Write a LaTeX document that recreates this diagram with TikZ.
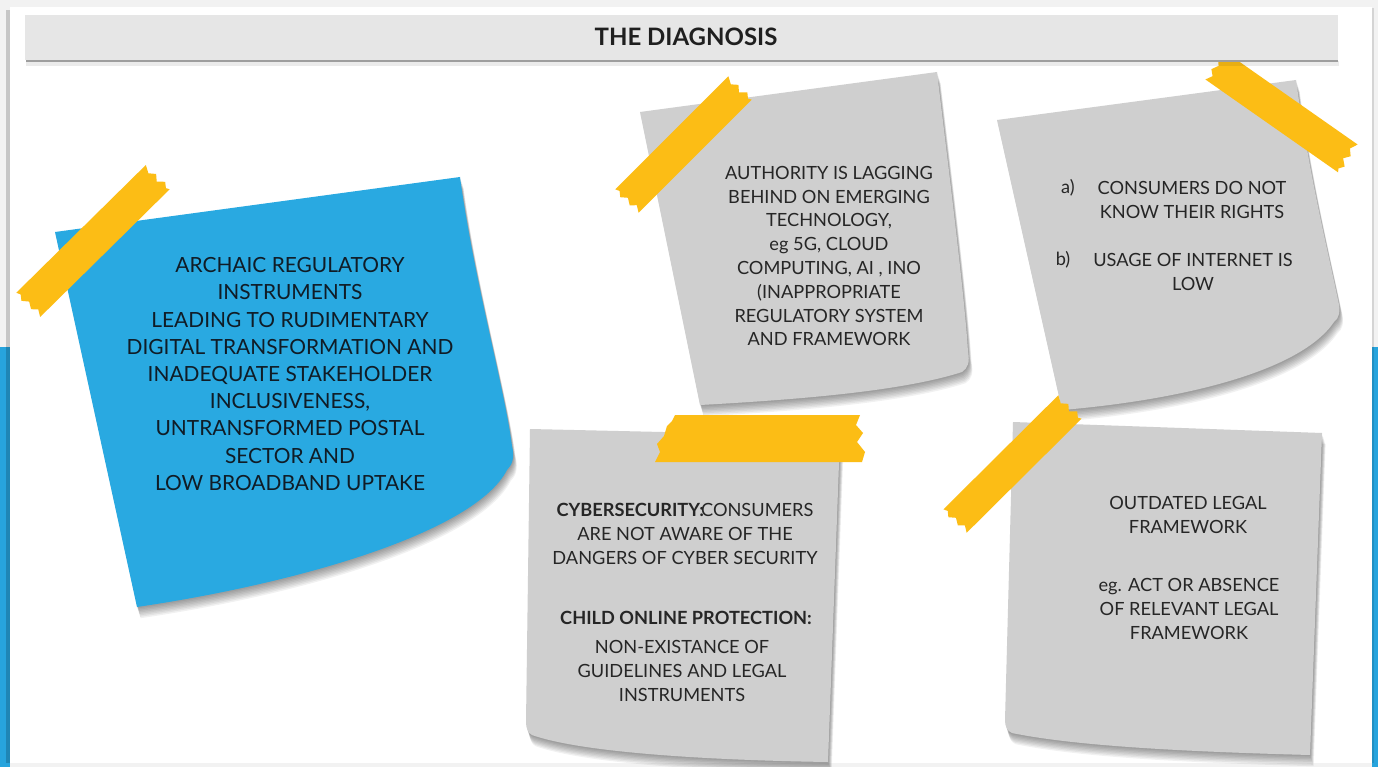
\documentclass[tikz,border=0pt]{standalone}
\usepackage{fontspec}
\setmainfont{Lato}
\definecolor{tapeyellow}{HTML}{FCBD15}
\definecolor{noteblue}{HTML}{29A9E1}
\definecolor{notegray}{HTML}{CFCFCF}
\definecolor{barfill}{HTML}{E6E6E6}
\definecolor{pageblue}{HTML}{27A4DD}
\definecolor{pagegray}{HTML}{F2F2F2}
\definecolor{textdark}{HTML}{262626}
\definecolor{textnavy}{HTML}{101C26}

% outlines of the five sticky notes (coordinates in px, y downwards)
\def\noteblueoutline{(55,232) -- (460,177) .. controls (474,280) and (505,390) .. (512,446) .. controls (515,458) and (512,465) .. (507,470) .. controls (475,532) and (300,583) .. (137,607) -- cycle}
\def\noteauthority{(640,112) -- (937,72) .. controls (950,180) and (965,300) .. (968,352) .. controls (970,362) and (968,368) .. (962,372) .. controls (900,392) and (790,400) .. (700,405) -- cycle}
\def\noteconsumers{(997,120) -- (1296,80) .. controls (1310,180) and (1330,260) .. (1338,300) .. controls (1341,312) and (1339,318) .. (1334,322) .. controls (1300,372) and (1180,400) .. (1062,410) -- cycle}
\def\notecyber{(530,429) -- (840,436) -- (828,762) .. controls (700,760) and (580,752) .. (532,735) .. controls (528,733) and (526,728) .. (526,722) -- cycle}
\def\notelegal{(1013,422) -- (1322,433) -- (1310,755) .. controls (1200,752) and (1080,747) .. (1012,733) .. controls (1007,731) and (1005,726) .. (1005,720) -- cycle}

% soft shadow: stacked translucent copies of an outline
\newcommand\notesoftshadow[1]{%
  \foreach \k in {1,...,8}{\fill[black,opacity=0.055,shift={(0.45*\k,1.4*\k)}] #1;}}

% a strip of adhesive tape with torn ends: centre x, centre y, angle, length, width
\newcommand\tapestrip[5]{%
  \begin{scope}[shift={(#1,#2)},rotate=#3]
    \pgfmathsetmacro\hl{#4/2}\pgfmathsetmacro\hw{#5/2}
    \fill[tapeyellow]
      ({-\hl},{-\hw}) -- ({\hl},{-\hw})
      -- ({\hl-4},{-0.55*\hw}) -- ({\hl+1},{-0.2*\hw}) -- ({\hl-4},{0.15*\hw})
      -- ({\hl+2},{0.5*\hw}) -- ({\hl-2},{0.8*\hw}) -- ({\hl},{\hw})
      -- ({-\hl},{\hw})
      -- ({-\hl+4},{0.6*\hw}) -- ({-\hl-1},{0.3*\hw}) -- ({-\hl+3},{-0.1*\hw})
      -- ({-\hl-2},{-0.45*\hw}) -- ({-\hl+2},{-0.75*\hw}) -- cycle;
  \end{scope}}

\begin{document}
\begin{tikzpicture}[x=1pt,y=-1pt,
  bodytext/.style={align=center,text=textdark,font=\fontsize{18.2}{23.8}\selectfont},
  bluetext/.style={align=center,text=textnavy,font=\fontsize{20.9}{27.2}\selectfont},
  headtext/.style={text=textdark,font=\fontsize{18.2}{23.8}\selectfont\bfseries}]
\useasboundingbox (0,0) rectangle (1378,767);

% page background and white sheet
\fill[pagegray] (0,0) rectangle (1378,767);
\fill[pageblue] (0,347) rectangle (10,767);
\fill[pageblue] (1372,347) rectangle (1378,767);
\fill[black,opacity=0.18] (6,10) rectangle (10,763);
\fill[black,opacity=0.12] (1372,8) rectangle (1374,763);
\fill[white] (10,7) rectangle (1372,763);

% notes with their shadows
\notesoftshadow{\noteblueoutline}
\fill[noteblue] \noteblueoutline;
\notesoftshadow{\noteauthority}
\fill[notegray] \noteauthority;
\notesoftshadow{\noteconsumers}
\fill[notegray] \noteconsumers;
\notesoftshadow{\notecyber}
\fill[notegray] \notecyber;
\notesoftshadow{\notelegal}
\fill[notegray] \notelegal;

% tape strips
\tapestrip{93}{241}{44.6}{182}{34}
\tapestrip{683.5}{144.5}{45}{160}{33}
\tapestrip{1281.5}{112}{-35}{162}{34}
\tapestrip{1012.5}{464}{44.8}{162}{33}
\fill[tapeyellow] (675,415) -- (860,415) -- (856,425) -- (863,433) -- (857,442) -- (865,452) -- (862,462)
  -- (655,462) -- (660,452) -- (657,444) -- (664,436) -- (667,426) -- (672,421) -- cycle;

% title bar
\fill[black,opacity=0.08] (26,61) rectangle (1339,66);
\fill[black!38] (26,57) rectangle (1338,62);
\fill[barfill] (25,15) rectangle (1338,60);
\node[text=black!88,font=\fontsize{24}{28}\selectfont\bfseries] (title) at (686,37) {THE DIAGNOSIS};

% texts
\node[bluetext] (archaic) at (290,374) {ARCHAIC REGULATORY\\INSTRUMENTS\\LEADING TO RUDIMENTARY\\DIGITAL TRANSFORMATION AND\\INADEQUATE STAKEHOLDER\\INCLUSIVENESS,\\UNTRANSFORMED POSTAL\\SECTOR AND\\LOW BROADBAND UPTAKE};

\node[bodytext] (authority) at (829,256) {AUTHORITY IS LAGGING\\BEHIND ON EMERGING\\TECHNOLOGY,\\eg 5G, CLOUD\\COMPUTING, AI , INO\\(INAPPROPRIATE\\REGULATORY SYSTEM\\AND FRAMEWORK};

\node[bodytext] (rights) at (1192,200) {CONSUMERS DO NOT\\KNOW THEIR RIGHTS};
\node[bodytext] (usage) at (1193,272) {USAGE OF INTERNET IS\\LOW};
\node[bodytext] (itema) at (1068,188) {a)};
\node[bodytext] (itemb) at (1063,260) {b)};

\node[bodytext] (cyber) at (685,534) {{\bfseries CYBERSECURITY:}\kern-3pt CONSUMERS\\ARE NOT AWARE OF THE\\DANGERS OF CYBER SECURITY};
\node[headtext] (child) at (686,618) {CHILD ONLINE PROTECTION:};
\node[bodytext] (guidelines) at (682,671) {NON-EXISTANCE OF\\GUIDELINES AND LEGAL\\INSTRUMENTS};

\node[bodytext] (outdated) at (1188,515) {OUTDATED LEGAL\\FRAMEWORK};
\node[bodytext] (actabsence) at (1189,609) {eg. ACT OR ABSENCE\\OF RELEVANT LEGAL\\FRAMEWORK};
\end{tikzpicture}
\end{document}
